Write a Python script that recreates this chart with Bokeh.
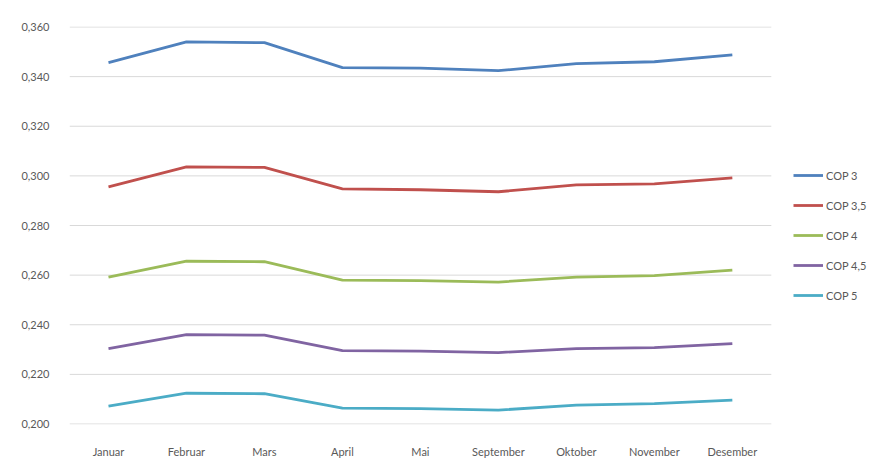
from bokeh.plotting import figure
from bokeh.models import Range1d, FixedTicker, CustomJSTickFormatter, Legend, LegendItem
from bokeh.embed import file_html
from bokeh.resources import INLINE

months = ["Januar", "Februar", "Mars", "April", "Mai", "September", "Oktober", "November", "Desember"]
series_names = ["COP 3", "COP 3,5", "COP 4", "COP 4,5", "COP 5"]
cop3 = [0.3456, 0.3540, 0.3537, 0.3436, 0.3434, 0.3424, 0.3452, 0.3460, 0.3488]
cop35 = [0.2956, 0.3036, 0.3034, 0.2948, 0.2944, 0.2936, 0.2964, 0.2968, 0.2992]
cop4 = [0.2592, 0.2656, 0.2654, 0.2580, 0.2578, 0.2572, 0.2592, 0.2598, 0.2620]
cop45 = [0.2304, 0.2360, 0.2358, 0.2296, 0.2294, 0.2288, 0.2304, 0.2308, 0.2324]
cop5 = [0.2072, 0.2124, 0.2122, 0.2064, 0.2062, 0.2056, 0.2076, 0.2082, 0.2096]
y_ticks = [0.20, 0.22, 0.24, 0.26, 0.28, 0.30, 0.32, 0.34, 0.36]
colors = ["#4F81BD", "#C0504D", "#9BBB59", "#8064A2", "#4BACC6"]

xs = list(range(len(months)))
x_lo = -0.5
x_hi = len(months) - 0.5

# frame extends to the right so the legend (inside the frame) is not clipped
p = figure(width=887, height=460, x_range=Range1d(x_lo, 9.9), y_range=Range1d(0.1998, 0.3602),
           output_backend="svg", toolbar_location=None,
           min_border_left=69, min_border_right=7, min_border_top=26, min_border_bottom=32)
p.outline_line_color = None
p.background_fill_color = "white"
p.border_fill_color = "white"

p.xgrid.grid_line_color = None
p.ygrid.grid_line_color = None
# horizontal gridlines across the category area only
p.segment(x0=[x_lo] * len(y_ticks), x1=[x_hi] * len(y_ticks), y0=y_ticks, y1=y_ticks,
          line_color="#D9D9D9", line_width=1)

p.yaxis.ticker = FixedTicker(ticks=y_ticks)
p.yaxis.formatter = CustomJSTickFormatter(code="return tick.toFixed(3).replace('.', ',');")
p.xaxis.ticker = FixedTicker(ticks=xs)
p.xaxis.major_label_overrides = {i: m for i, m in zip(xs, months)}

for ax in (p.xaxis, p.yaxis):
    ax.axis_line_color = None
    ax.major_tick_line_color = None
    ax.minor_tick_line_color = None
    ax.major_label_text_color = "#595959"
    ax.major_label_text_font = "Lato"
    ax.major_label_text_font_size = "11px"
p.yaxis.major_label_standoff = 14
p.xaxis.major_label_standoff = 14

items = []
for name, vals, c in zip(series_names, [cop3, cop35, cop4, cop45, cop5], colors):
    r = p.line(xs, vals, line_color=c, line_width=2.8)
    items.append(LegendItem(label=name, renderers=[r]))

legend = Legend(items=items, location=(724, 119), glyph_width=30, glyph_height=20,
                spacing=10, padding=0, margin=0, label_standoff=3,
                label_text_font="Lato", label_text_font_size="11px", label_text_color="#595959",
                border_line_color=None, background_fill_alpha=0)
p.add_layout(legend, "center")

open("out.html", "w").write(file_html(p, INLINE))
